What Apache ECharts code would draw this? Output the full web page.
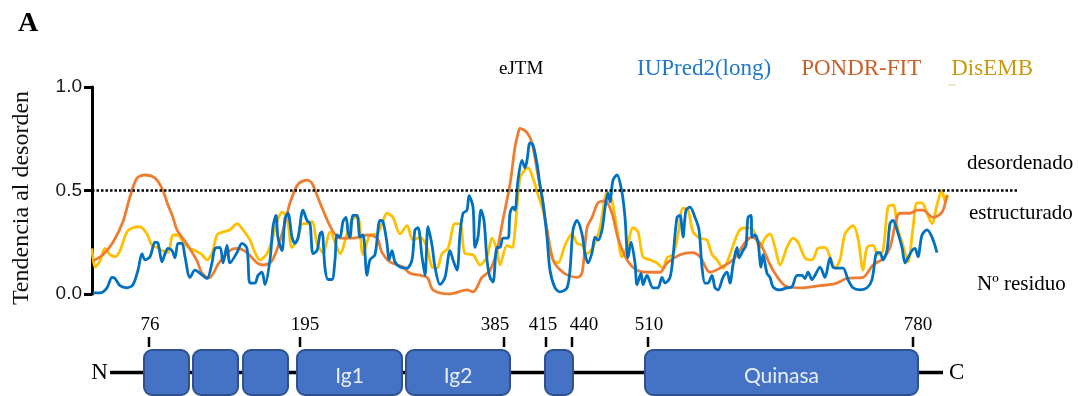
<!DOCTYPE html>
<html>
<head>
<meta charset="utf-8">
<script src="https://cdn.jsdelivr.net/npm/echarts@6/dist/echarts.min.js"></script>
<style>
  html, body { margin: 0; padding: 0; background: #fff; }
  #main { width: 1078px; height: 396px; }
</style>
</head>
<body>
<div id="main"></div>
<script>
// posicion en la secuencia (eje x del esquema), valor de tendencia al desorden
var iupredLong = [[1,0.005],[8,0.005],[15,0.03],[20,0.08],[23,0.075],[28,0.04],[35,0.03],[41,0.045],[46,0.115],[50,0.195],
  [53,0.165],[58,0.18],[63,0.25],[66,0.245],[70,0.155],[73,0.195],[76,0.22],[80,0.21],[83,0.175],[86,0.245],
  [90,0.245],[93,0.18],[98,0.08],[103,0.115],[108,0.10],[115,0.075],[120,0.15],[123,0.22],[128,0.225],[131,0.15],
  [135,0.235],[138,0.15],[145,0.20],[150,0.245],[155,0.22],[158,0.053],[163,0.053],[166,0.09],[170,0.105],[173,0.045],
  [178,0.165],[181,0.325],[184,0.38],[186,0.27],[190,0.21],[193,0.365],[196,0.39],[200,0.275],[203,0.245],[206,0.27],
  [211,0.405],[215,0.355],[218,0.34],[221,0.195],[225,0.21],[228,0.29],[230,0.30],[233,0.125],[236,0.07],[240,0.07],
  [243,0.165],[245,0.285],[248,0.275],[251,0.35],[254,0.37],[256,0.30],[258,0.275],[261,0.38],[265,0.38],[268,0.275],
  [271,0.285],[275,0.09],[278,0.165],[283,0.19],[288,0.355],[291,0.35],[295,0.245],[297,0.165],[300,0.21],[303,0.155],
  [308,0.13],[315,0.125],[320,0.165],[323,0.31],[326,0.32],[330,0.18],[333,0.09],[336,0.325],[340,0.235],[343,0.13],
  [348,0.045],[353,0.08],[358,0.21],[361,0.165],[365,0.115],[368,0.29],[371,0.39],[375,0.405],[377,0.475],[381,0.42],
  [383,0.225],[386,0.275],[389,0.405],[392,0.355],[395,0.165],[398,0.08],[401,0.058],[405,0.225],[408,0.225],[411,0.27],
  [416,0.27],[418,0.39],[421,0.42],[423,0.405],[426,0.55],[430,0.645],[433,0.61],[435,0.645],[438,0.73],[441,0.72],
  [445,0.63],[448,0.525],[451,0.44],[455,0.275],[458,0.115],[463,0.03],[468,0.01],[475,0.03],[478,0.115],[481,0.31],
  [485,0.355],[490,0.29],[493,0.195],[496,0.15],[500,0.20],[503,0.275],[506,0.26],[510,0.31],[513,0.415],[516,0.49],
  [518,0.445],[521,0.55],[525,0.575],[530,0.49],[533,0.37],[536,0.175],[539,0.25],[543,0.15],[545,0.045],[549,0.10],
  [551,0.045],[555,0.09],[561,0.03],[566,0.03],[570,0.08],[573,0.053],[578,0.08],[581,0.18],[585,0.37],[588,0.38],
  [591,0.275],[594,0.405],[598,0.42],[603,0.37],[607,0.31],[610,0.13],[613,0.053],[616,0.053],[620,0.09],[623,0.03],
  [626,0.02],[631,0.08],[635,0.105],[638,0.053],[641,0.14],[645,0.225],[647,0.175],[651,0.21],[654,0.235],[656,0.37],
  [659,0.38],[660,0.275],[663,0.285],[666,0.25],[669,0.13],[671,0.19],[675,0.10],[678,0.08],[681,0.035],[688,0.02],
  [695,0.03],[700,0.035],[705,0.09],[710,0.09],[713,0.075],[716,0.105],[720,0.07],[723,0.09],[728,0.13],[733,0.08],
  [738,0.175],[741,0.13],[746,0.125],[751,0.125],[756,0.07],[761,0.03],[768,0.02],[775,0.03],[780,0.07],[785,0.20],
  [788,0.20],[791,0.165],[795,0.21],[798,0.34],[801,0.355],[805,0.31],[810,0.225],[813,0.15],[816,0.175],[820,0.21],
  [823,0.22],[826,0.18],[830,0.285],[835,0.31],[840,0.275],[845,0.20]];

var pondrFit = [[1,0.16],[11,0.19],[21,0.25],[31,0.35],[38,0.47],[45,0.56],[53,0.575],[63,0.56],[70,0.51],[76,0.43],
  [81,0.37],[85,0.31],[95,0.24],[105,0.16],[110,0.10],[117,0.077],[127,0.15],[138,0.21],[145,0.22],[155,0.2],[165,0.15],
  [171,0.14],[180,0.16],[190,0.29],[198,0.44],[206,0.53],[215,0.55],[220,0.535],[228,0.44],[240,0.31],[248,0.27],
  [261,0.27],[275,0.285],[285,0.27],[290,0.2],[298,0.155],[311,0.13],[318,0.10],[335,0.08],[341,0.02],[358,0.0],
  [375,0.02],[381,0.01],[390,0.08],[398,0.115],[405,0.21],[411,0.36],[418,0.53],[423,0.71],[426,0.775],[428,0.80],
  [435,0.78],[440,0.73],[445,0.60],[450,0.47],[455,0.31],[461,0.165],[471,0.105],[485,0.08],[490,0.10],[495,0.32],
  [500,0.37],[506,0.44],[513,0.45],[520,0.39],[526,0.27],[535,0.165],[545,0.115],[558,0.105],[568,0.105],[575,0.15],
  [588,0.19],[600,0.2],[608,0.18],[618,0.105],[628,0.125],[641,0.165],[660,0.275],[668,0.245],[681,0.115],[695,0.035],
  [711,0.03],[728,0.04],[743,0.05],[755,0.075],[771,0.08],[781,0.14],[791,0.17],[798,0.225],[808,0.39],[818,0.39],
  [825,0.405],[831,0.405],[841,0.37],[850,0.395],[855,0.48]];

var disEmb = [[0,0.22],[3,0.13],[8,0.16],[13,0.22],[18,0.19],[23,0.18],[28,0.21],[35,0.30],[41,0.32],[48,0.325],
  [55,0.29],[60,0.235],[65,0.225],[70,0.21],[76,0.20],[81,0.285],[86,0.285],[91,0.25],[98,0.22],[103,0.21],
  [110,0.19],[115,0.165],[120,0.195],[125,0.285],[131,0.30],[138,0.31],[145,0.34],[151,0.31],[158,0.26],[163,0.20],
  [168,0.165],[175,0.195],[180,0.26],[185,0.35],[190,0.395],[195,0.37],[200,0.225],[205,0.26],[211,0.34],[215,0.34],
  [220,0.35],[225,0.245],[231,0.20],[238,0.30],[245,0.225],[248,0.195],[255,0.29],[261,0.365],[266,0.37],[271,0.19],
  [278,0.285],[285,0.29],[290,0.34],[295,0.39],[301,0.37],[308,0.29],[315,0.33],[321,0.26],[328,0.275],[335,0.225],
  [340,0.13],[345,0.125],[350,0.195],[356,0.22],[363,0.34],[368,0.34],[373,0.195],[381,0.19],[388,0.14],[395,0.18],
  [400,0.27],[405,0.21],[408,0.14],[415,0.235],[420,0.225],[423,0.31],[428,0.56],[433,0.60],[436,0.61],[441,0.56],
  [446,0.48],[451,0.405],[455,0.31],[461,0.165],[466,0.15],[473,0.235],[480,0.29],[485,0.245],[490,0.235],[495,0.195],
  [501,0.225],[508,0.32],[515,0.49],[520,0.45],[525,0.31],[530,0.18],[535,0.225],[541,0.32],[546,0.30],[551,0.18],
  [558,0.165],[565,0.15],[571,0.125],[575,0.175],[581,0.19],[586,0.285],[591,0.415],[596,0.405],[601,0.30],[608,0.27],
  [615,0.26],[620,0.19],[625,0.165],[631,0.125],[636,0.165],[643,0.26],[648,0.31],[655,0.32],[661,0.31],[668,0.225],
  [673,0.27],[678,0.29],[683,0.225],[688,0.14],[695,0.225],[701,0.27],[706,0.25],[713,0.175],[720,0.165],[726,0.22],
  [733,0.225],[738,0.18],[743,0.125],[748,0.165],[753,0.29],[761,0.33],[766,0.27],[771,0.115],[775,0.225],[781,0.235],
  [786,0.19],[791,0.21],[796,0.42],[801,0.43],[806,0.31],[811,0.235],[816,0.155],[821,0.32],[825,0.44],[830,0.44],
  [835,0.39],[840,0.34],[845,0.43],[850,0.50],[853,0.45],[856,0.475]];

var umbral = 0.5;

// esquema de dominios (posiciones en el mismo eje x)
var residueLabels = ['76', '195', '385', '415', '440', '510', '780'];
var residueTickPos = [57, 208, 412, 454, 480, 556, 821];
var residueLabelPos = [58, 213, 403, 451, 492, 557, 826];
var domainNames = ['', '', '', 'Ig1', 'Ig2', '', 'Quinasa'];
var domainStart = [52, 101, 151, 205, 314, 453, 553];
var domainEnd = [97, 146, 196, 310, 418, 481, 826];
var chainEnds = [18, 851];

var serif = 'Liberation Serif';
var myChart = echarts.init(document.getElementById('main'));

var domainData = [];
for (var i = 0; i < domainStart.length; i++) {
    domainData.push([domainStart[i], domainEnd[i]]);
}
var tickData = [];
for (var j = 0; j < residueTickPos.length; j++) {
    tickData.push([residueTickPos[j], residueLabelPos[j]]);
}

option = {
    animation: false,
    graphic: [
        { type: 'text', left: 18, top: 10, style: { text: 'A', font: 'bold 28px "Liberation Serif"', fill: '#000' } },
        { type: 'text', left: 499, top: 60, style: { text: 'eJTM', font: '19px "Liberation Serif"', fill: '#000' } },
        { type: 'line', shape: { x1: 948, y1: 85, x2: 956, y2: 85 }, style: { stroke: '#e6cf8a', lineWidth: 1 } },
        { type: 'text', left: 967, top: 153, style: { text: 'desordenado', font: '21px "Liberation Serif"', fill: '#000' } },
        { type: 'text', left: 969, top: 203, style: { text: 'estructurado', font: '21px "Liberation Serif"', fill: '#000' } },
        { type: 'text', left: 977, top: 274, style: { text: 'Nº residuo', font: '21px "Liberation Serif"', fill: '#000' } },
        {
            type: 'text', x: 22, y: 198, rotation: Math.PI / 2,
            style: {
                text: 'Tendencia al desorden', font: '24px "Liberation Serif"', fill: '#111',
                textAlign: 'center', textVerticalAlign: 'middle'
            }
        }
    ],
    legend: {
        left: 627,
        top: 52,
        icon: 'none',
        itemWidth: 0,
        itemHeight: 0,
        itemGap: 25,
        selectedMode: false,
        textStyle: { fontFamily: serif, fontSize: 23 },
        data: [
            { name: 'IUPred2(long)', textStyle: { color: '#1f78c8' } },
            { name: 'PONDR-FIT', textStyle: { color: '#c8602a' } },
            { name: 'DisEMB', textStyle: { color: '#c99a10' } }
        ]
    },
    grid: [
        { left: 92, top: 87, width: 925, height: 207 },
        { left: 92, top: 350, width: 925, height: 45 }
    ],
    xAxis: [
        { type: 'value', gridIndex: 0, min: 0, max: 925, show: false },
        { type: 'value', gridIndex: 1, min: 0, max: 925, show: false }
    ],
    yAxis: [
        {
            type: 'value', gridIndex: 0, min: 0, max: 1, interval: 0.5,
            axisLine: { show: true, lineStyle: { color: '#000', width: 3 } },
            axisTick: { show: true, length: 8, lineStyle: { color: '#000', width: 3 } },
            axisLabel: {
                margin: 10, fontFamily: 'Liberation Sans', fontSize: 19, color: '#1a1a1a',
                formatter: function (v) { return v.toFixed(1); }
            },
            splitLine: { show: false }
        },
        { type: 'value', gridIndex: 1, min: 0, max: 1, show: false }
    ],
    series: [
        {
            name: 'DisEMB', type: 'line', data: disEmb, smooth: 0.3,
            symbol: 'none', color: '#ffc000', lineStyle: { width: 2.8 }, z: 2
        },
        {
            name: 'PONDR-FIT', type: 'line', data: pondrFit, smooth: 0.3,
            symbol: 'none', color: '#ed7d31', lineStyle: { width: 2.8 }, z: 3
        },
        {
            name: 'IUPred2(long)', type: 'line', data: iupredLong, smooth: 0.3,
            symbol: 'none', color: '#0070c0', lineStyle: { width: 2.8 }, z: 4,
            markLine: {
                silent: true, symbol: 'none', label: { show: false },
                lineStyle: { color: '#000', width: 2.5, type: [2.5, 2] },
                data: [{ yAxis: umbral }]
            }
        },
        {
            // cadena N - C
            type: 'line', xAxisIndex: 1, yAxisIndex: 1, symbol: 'circle', symbolSize: 0.1, silent: true,
            lineStyle: { color: '#000', width: 3.5 }, itemStyle: { color: '#000' }, z: 1,
            data: [
                { value: [chainEnds[0], 0.5], label: { show: true, position: 'left', distance: 2, formatter: 'N' } },
                { value: [chainEnds[1], 0.5], label: { show: true, position: 'right', distance: 6, formatter: 'C' } }
            ],
            label: { fontFamily: serif, fontSize: 23, color: '#000' }
        },
        {
            type: 'custom', xAxisIndex: 1, yAxisIndex: 1, silent: true, z: 5,
            data: domainData,
            encode: { x: [0, 1] },
            renderItem: function (params, api) {
                var x0 = api.coord([api.value(0), 0])[0];
                var x1 = api.coord([api.value(1), 0])[0];
                var cs = params.coordSys;
                return {
                    type: 'group',
                    children: [
                        {
                            type: 'rect',
                            shape: { x: x0, y: cs.y, width: x1 - x0, height: cs.height, r: 8 },
                            style: { fill: '#4472c4', stroke: '#2f528f', lineWidth: 2 }
                        },
                        {
                            type: 'text',
                            style: {
                                text: domainNames[params.dataIndex], x: (x0 + x1) / 2, y: cs.y + 26,
                                textAlign: 'center', textVerticalAlign: 'middle',
                                font: '21px Lato', fill: '#e8eef8'
                            }
                        }
                    ]
                };
            }
        },
        {
            type: 'custom', xAxisIndex: 1, yAxisIndex: 1, silent: true, z: 5, clip: false,
            data: tickData,
            encode: { x: 0 },
            renderItem: function (params, api) {
                var x = api.coord([api.value(0), 0])[0];
                var xl = api.coord([api.value(1), 0])[0];
                var top = params.coordSys.y;
                return {
                    type: 'group',
                    children: [
                        {
                            type: 'line',
                            shape: { x1: x, y1: top - 13, x2: x, y2: top - 3 },
                            style: { stroke: '#000', lineWidth: 2.5 }
                        },
                        {
                            type: 'text',
                            style: {
                                text: residueLabels[params.dataIndex], x: xl, y: top - 25,
                                textAlign: 'center', textVerticalAlign: 'middle',
                                font: '19px "Liberation Serif"', fill: '#000'
                            }
                        }
                    ]
                };
            }
        }
    ]
};
myChart.setOption(option);
</script>
</body>
</html>
